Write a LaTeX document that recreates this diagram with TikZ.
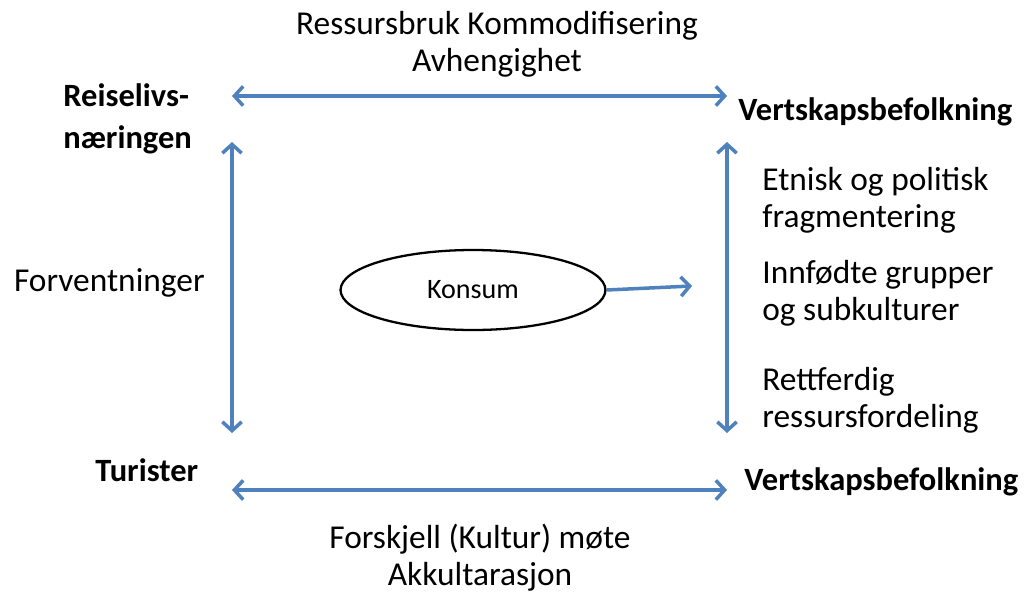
\documentclass[tikz,border=0pt]{standalone}
\usepackage{fontspec}
\setmainfont{Carlito}
\usepackage{tikz}
\usetikzlibrary{arrows.meta, shapes.geometric}
\definecolor{linkblue}{RGB}{79,129,189}
\tikzstyle{actor} = [inner sep=0pt, font=\fontsize{18.5}{24}\selectfont\bfseries,
    align=left]
\tikzstyle{topic} = [inner sep=0pt, font=\fontsize{19}{21}\selectfont]
\tikzstyle{link} = [draw=linkblue, line width=2pt, {Straight Barb[length=5pt, width=11pt]}-{Straight Barb[length=5pt, width=11pt]}]

\begin{document}
\begin{tikzpicture}[x=0.02cm, y=-0.02cm,
    flow/.style={draw=linkblue, line width=2pt, -{Straight Barb[length=5pt, width=11pt]}}
    ]
    \useasboundingbox (0,0) rectangle (1024,592);

    \node[topic, align=center] (resource) at (497,44) {Ressursbruk Kommodifisering\\Avhengighet};
    \node[actor, anchor=west] (industry) at (63,119) {Reiselivs-\\næringen};
    \node[actor, anchor=west] (hosts) at (738,112) {Vertskapsbefolkning};
    \node[topic, anchor=east] (expect) at (205,283) {Forventninger};
    \node[ellipse, draw, line width=1.3pt, inner sep=0pt,
          minimum width=5.3cm, minimum height=1.6cm,
          font=\fontsize{16}{19}\selectfont] (consume) at (473,290) {Konsum};
    \node[topic, anchor=west, align=left] (ethnic) at (762,200) {Etnisk og politisk\\fragmentering};
    \node[topic, anchor=west, align=left] (native) at (762,293) {Innfødte grupper\\og subkulturer};
    \node[topic, anchor=west, align=left] (fair) at (762,400) {Rettferdig\\ressursfordeling};
    \node[actor, anchor=west] (tourists) at (95,470) {Turister};
    \node[actor, anchor=west] (hosts2) at (744,482) {Vertskapsbefolkning};
    \node[topic, align=center] (meeting) at (480,558) {Forskjell (Kultur) møte\\Akkultarasjon};

    \coordinate (tl) at (232,96);
    \coordinate (tr) at (727,96);
    \coordinate (lt) at (232,142);
    \coordinate (lb) at (232,433);
    \coordinate (rt) at (727,142);
    \coordinate (rb) at (727,433);
    \coordinate (bl) at (232,490);
    \coordinate (br) at (727,490);
    \coordinate (target) at (692,286);

    \draw[link] (tl) -- (tr);
    \draw[link] (lt) -- (lb);
    \draw[link] (rt) -- (rb);
    \draw[link] (bl) -- (br);
    \draw[flow] (consume.east) -- (target);
\end{tikzpicture}
\end{document}
